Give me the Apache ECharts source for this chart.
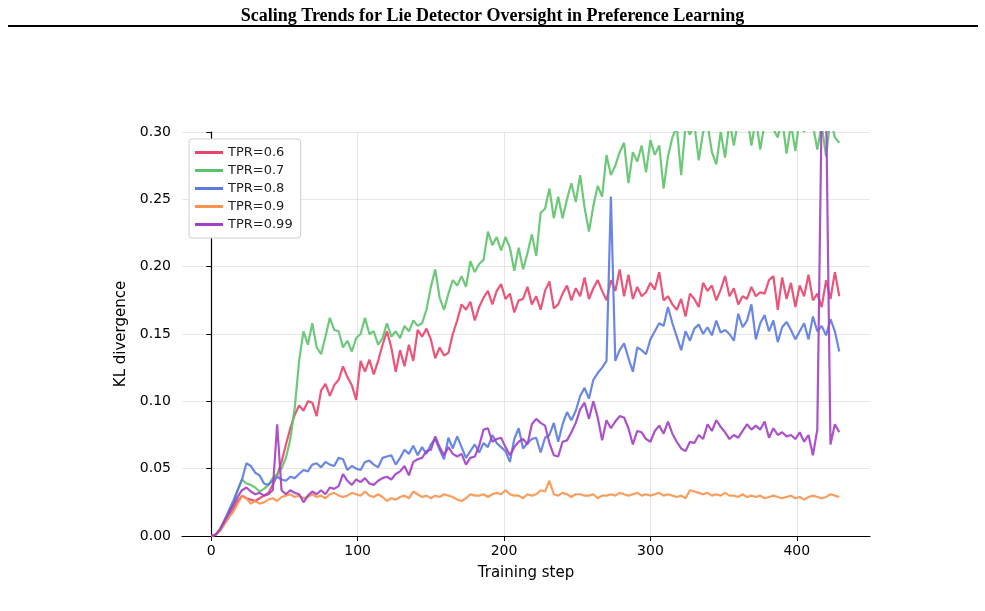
<!DOCTYPE html>
<html>
<head>
<meta charset="utf-8">
<script src="https://cdn.jsdelivr.net/npm/echarts@6/dist/echarts.min.js"></script>
<style>
  html, body { margin: 0; padding: 0; background: #fff; }
  #chart { width: 985px; height: 611px; }
</style>
</head>
<body>
<div id="chart"></div>
<script>
// training steps, sampled every 3 steps (0..429)
var steps = [];
for (var s = 0; s <= 429; s += 3) steps.push(s);

var xTicks = [0, 100, 200, 300, 400];

var tpr06 = [
  0, .001, .004, .009, .014, .02, .026, .03, .028, .027,
  .026, .028, .03, .032, .038, .045, .055, .068, .08, .09,
  .097, .093, .1, .099, .089, .108, .113, .104, .112, .116,
  .126, .118, .112, .101, .13, .122, .131, .12, .13, .142,
  .152, .14, .122, .138, .126, .142, .13, .153, .148, .154,
  .146, .132, .14, .134, .136, .15, .16, .172, .168, .174,
  .16, .17, .177, .182, .172, .182, .187, .176, .18, .166,
  .175, .176, .185, .172, .178, .168, .182, .189, .169, .172,
  .18, .186, .175, .184, .178, .192, .176, .184, .19, .182,
  .175, .19, .182, .198, .178, .194, .176, .185, .178, .181,
  .188, .183, .196, .175, .178, .172, .168, .176, .163, .18,
  .176, .17, .188, .182, .186, .175, .183, .193, .178, .184,
  .172, .178, .176, .185, .178, .181, .18, .19, .193, .168,
  .192, .176, .188, .17, .186, .178, .194, .175, .18, .17,
  .19, .176, .196, .178
];
var tpr07 = [
  0, .001, .004, .01, .017, .024, .034, .042, .039, .038,
  .036, .033, .035, .038, .043, .046, .05, .058, .072, .095,
  .13, .152, .142, .158, .14, .135, .148, .162, .153, .152,
  .14, .145, .137, .147, .15, .162, .15, .152, .142, .147,
  .158, .148, .152, .147, .156, .152, .16, .156, .158, .168,
  .185, .198, .177, .168, .18, .19, .186, .193, .185, .204,
  .196, .202, .205, .226, .216, .222, .212, .222, .214, .197,
  .214, .198, .21, .224, .208, .24, .243, .258, .236, .252,
  .236, .25, .262, .248, .268, .244, .226, .245, .26, .252,
  .283, .268, .275, .285, .292, .262, .285, .278, .29, .27,
  .294, .283, .29, .258, .282, .296, .304, .268, .305, .298,
  .306, .279, .3, .306, .285, .276, .3, .281, .308, .29,
  .31, .304, .312, .29, .31, .287, .306, .31, .302, .296,
  .31, .284, .306, .286, .31, .3, .312, .305, .287, .305,
  .282, .31, .296, .292
];
var tpr08 = [
  0, .001, .005, .012, .019, .026, .034, .042, .054, .052,
  .047, .045, .039, .038, .041, .044, .042, .041, .044, .043,
  .046, .049, .048, .053, .054, .051, .055, .053, .052, .058,
  .057, .049, .052, .05, .049, .055, .056, .053, .051, .058,
  .059, .06, .053, .058, .064, .061, .067, .06, .066, .061,
  .068, .072, .064, .057, .073, .065, .074, .066, .058, .063,
  .068, .062, .069, .066, .075, .069, .066, .063, .055, .072,
  .08, .065, .069, .072, .073, .062, .073, .075, .084, .07,
  .083, .092, .086, .093, .104, .11, .102, .116, .121, .125,
  .13, .252, .13, .138, .143, .132, .122, .14, .138, .135,
  .146, .152, .158, .156, .17, .158, .148, .138, .152, .145,
  .154, .157, .15, .155, .149, .16, .151, .153, .15, .145,
  .165, .155, .16, .172, .146, .158, .164, .152, .16, .144,
  .155, .159, .153, .146, .152, .158, .146, .163, .152, .156,
  .149, .161, .152, .137
];
var tpr09 = [
  0, .001, .004, .009, .014, .018, .024, .03, .028, .024,
  .026, .024, .025, .027, .028, .026, .029, .03, .031, .029,
  .03, .028, .029, .031, .029, .03, .028, .031, .032, .03,
  .029, .03, .032, .031, .03, .033, .03, .029, .031, .029,
  .026, .028, .027, .029, .03, .028, .033, .031, .029, .03,
  .028, .03, .029, .031, .03, .029, .027, .026, .028, .031,
  .03, .03, .031, .029, .031, .032, .031, .034, .031, .03,
  .03, .028, .031, .03, .031, .034, .033, .041, .031, .03,
  .032, .031, .029, .031, .031, .03, .03, .031, .028, .03,
  .03, .031, .03, .032, .031, .03, .031, .032, .03, .031,
  .03, .031, .032, .03, .031, .03, .029, .03, .028, .034,
  .033, .032, .031, .032, .03, .031, .03, .032, .03, .03,
  .029, .031, .029, .03, .029, .03, .028, .029, .03, .029,
  .028, .029, .03, .028, .029, .027, .029, .03, .029, .028,
  .029, .031, .03, .029
];
var tpr099 = [
  0, .001, .005, .011, .017, .023, .029, .034, .036, .033,
  .031, .032, .03, .031, .034, .083, .034, .031, .034, .032,
  .031, .025, .03, .033, .031, .034, .031, .036, .035, .037,
  .046, .041, .038, .042, .04, .043, .039, .038, .041, .043,
  .044, .042, .046, .048, .052, .045, .055, .057, .058, .063,
  .064, .074, .066, .06, .066, .061, .059, .061, .053, .058,
  .059, .067, .079, .08, .07, .072, .073, .066, .06, .066,
  .07, .072, .068, .083, .087, .084, .082, .069, .06, .059,
  .07, .071, .077, .084, .094, .099, .087, .1, .088, .071,
  .086, .08, .085, .089, .088, .08, .068, .078, .077, .072,
  .07, .078, .082, .076, .085, .076, .07, .065, .063, .07,
  .069, .075, .072, .083, .078, .086, .081, .077, .072, .075,
  .073, .078, .083, .079, .082, .079, .085, .073, .08, .075,
  .077, .074, .075, .072, .077, .07, .075, .06, .079, .32,
  .32, .068, .083, .077
];

var names = ['TPR=0.6', 'TPR=0.7', 'TPR=0.8', 'TPR=0.9', 'TPR=0.99'];
var colors = ['#e8446c', '#5ec26a', '#5a7be0', '#f9934f', '#a23fc4'];
var datas = [tpr06, tpr07, tpr08, tpr09, tpr099];

function getSeries() {
  var series = [];
  for (var i = 0; i < datas.length; i++) {
    var vals = datas[i];
    series.push({
      name: names[i],
      type: 'line',
      data: steps.map(function (st, j) { return [st, vals[j]]; }),
      showSymbol: false,
      color: colors[i],
      lineStyle: { width: 2.2, opacity: 0.9 },
      clip: true
    });
  }
  return series;
}

var myChart = echarts.init(document.getElementById('chart'));
var option = {
  animation: false,
  backgroundColor: '#fff',
  title: {
    text: 'Scaling Trends for Lie Detector Oversight in Preference Learning',
    left: 'center',
    top: 2,
    textStyle: {
      fontFamily: 'Liberation Serif',
      fontWeight: 'bold',
      fontSize: 18,
      color: '#000'
    }
  },
  graphic: [{
    type: 'line',
    shape: { x1: 8, y1: 26, x2: 978, y2: 26 },
    style: { stroke: '#000', lineWidth: 2 }
  }],
  grid: { left: 182, right: 115, top: 132, bottom: 75 },
  legend: {
    orient: 'vertical',
    left: 189,
    top: 139,
    padding: [7, 8, 7, 6],
    itemGap: 5,
    itemWidth: 28,
    itemHeight: 3,
    icon: 'rect',
    backgroundColor: '#fff',
    borderColor: '#d0d0d0',
    borderWidth: 1,
    borderRadius: 3,
    textStyle: { fontFamily: 'DejaVu Sans', fontSize: 13, color: '#222' },
    data: names
  },
  xAxis: {
    type: 'value',
    min: -20,
    max: 450,
    name: 'Training step',
    nameLocation: 'middle',
    nameGap: 30,
    nameTextStyle: { fontFamily: 'DejaVu Sans', fontSize: 15, color: '#000' },
    axisLine: { lineStyle: { color: '#000', width: 1.2 } },
    axisTick: { show: true, length: 5, customValues: xTicks, lineStyle: { color: '#000' } },
    axisLabel: { customValues: xTicks, margin: 8, fontFamily: 'DejaVu Sans', fontSize: 14, color: '#000' },
    splitLine: { show: true, lineStyle: { color: '#e6e6e6', width: 1 } }
  },
  yAxis: {
    type: 'value',
    min: 0,
    max: 0.3,
    interval: 0.05,
    name: 'KL divergence',
    nameLocation: 'middle',
    nameGap: 49,
    nameTextStyle: { fontFamily: 'DejaVu Sans', fontSize: 15, color: '#000' },
    axisLine: { show: true, lineStyle: { color: '#000', width: 1.2 } },
    axisTick: { show: true, length: 5, lineStyle: { color: '#000' } },
    axisLabel: {
      margin: 11,
      fontFamily: 'DejaVu Sans',
      fontSize: 14,
      color: '#000',
      formatter: function (v) { return v.toFixed(2); }
    },
    splitLine: { show: true, lineStyle: { color: '#e6e6e6', width: 1 } }
  },
  series: getSeries()
};
myChart.setOption(option);
</script>
</body>
</html>
